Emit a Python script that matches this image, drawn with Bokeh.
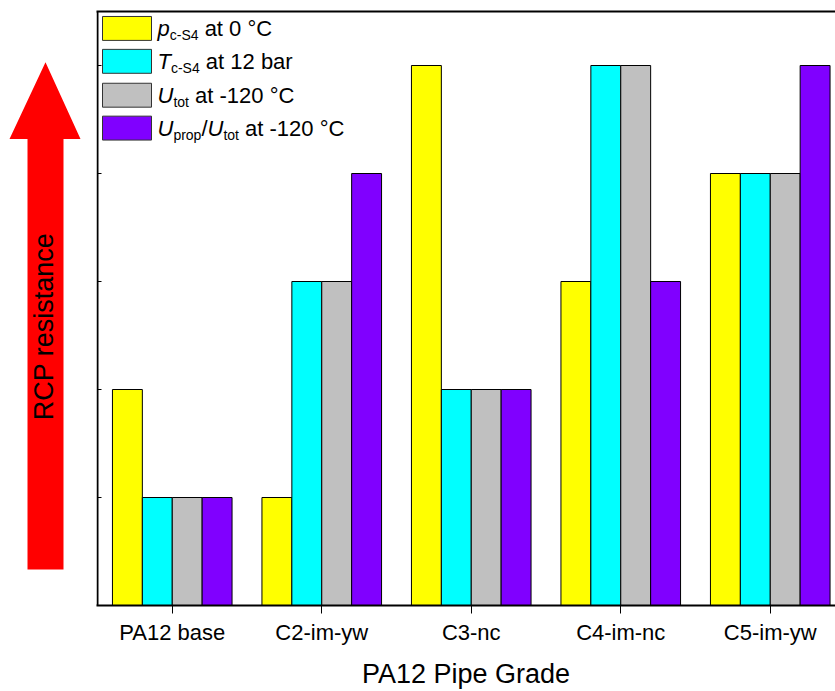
import math
from bokeh.plotting import figure
from bokeh.layouts import row
from bokeh.models import Range1d, FixedTicker, LinearAxis, Label, ColumnDataSource
from bokeh.core.properties import value
from bokeh.embed import file_html
from bokeh.resources import INLINE

# ---- data ----
grades = ["PA12 base", "C2-im-yw", "C3-nc", "C4-im-nc", "C5-im-yw"]
p_cS4_0C = [2, 1, 5, 3, 4]
T_cS4_12bar = [1, 3, 2, 5, 4]
U_tot_m120C = [1, 3, 2, 5, 4]
Uprop_Utot_m120C = [1, 4, 2, 3, 5]
series = [p_cS4_0C, T_cS4_12bar, U_tot_m120C, Uprop_Utot_m120C]
colors = ["#FFFF00", "#00FFFF", "#C0C0C0", "#8000FF"]
y_ticks = [1, 2, 3, 4, 5]
legend_segments = [
    [("p", "i"), ("c-S4", "s"), (" at 0 °C", "n")],
    [("T", "i"), ("c-S4", "s"), (" at 12 bar", "n")],
    [("U", "i"), ("tot", "s"), (" at -120 °C", "n")],
    [("U", "i"), ("prop", "s"), ("/", "n"), ("U", "i"), ("tot", "s"), (" at -120 °C", "n")],
]
y_label = "RCP resistance"
x_label = "PA12 Pipe Grade"

W, H = 835, 691
LW = 96                     # width of the left (arrow) panel
AX = 97                     # canvas x of the y axis line
FR, FT, FB = 835, 11, 607
PX = 149.5                  # pixels per category
X0 = 0.5 - (AX - LW) / PX
X1 = 0.5 + (FR - AX) / PX
Y0, Y1 = 0.0, 5.5
FONT = "Liberation Sans"


def X(sx):
    return X0 + (sx - LW) * (X1 - X0) / (FR - LW)


def Y(sy):
    return Y0 + (FB - sy) * (Y1 - Y0) / (FB - FT)


p = figure(width=W - LW, height=H, output_backend="svg", toolbar_location=None,
           x_range=Range1d(X0, X1), y_range=Range1d(Y0, Y1),
           min_border_left=0, min_border_right=0, min_border_top=FT,
           min_border_bottom=H - FB, outline_line_color=None,
           y_axis_location=None,
           background_fill_color="white", border_fill_color="white")
p.grid.visible = False

n = len(grades)
offsets = [-0.3, -0.1, 0.1, 0.3]
for vals, col, off in zip(series, colors, offsets):
    src = ColumnDataSource(dict(x=[g + 1 + off for g in range(n)], top=vals))
    p.vbar(x="x", top="top", width=0.2, bottom=0, source=src,
           fill_color=col, line_color="black", line_width=1)

# bottom axis
xa = p.xaxis[0]
xa.ticker = FixedTicker(ticks=list(range(1, n + 1)))
xa.major_label_overrides = {i + 1: g for i, g in enumerate(grades)}
xa.major_label_text_font = FONT
xa.major_label_text_font_size = "22px"
xa.major_label_text_color = "black"
xa.major_tick_out = 8
xa.major_tick_in = 0
xa.minor_tick_out = 0
xa.minor_tick_in = 0
xa.axis_line_width = 2
xa.axis_line_color = "black"
xa.major_tick_line_color = "black"
xa.major_label_standoff = 6
xa.axis_label = x_label
xa.axis_label_text_font = FONT
xa.axis_label_text_font_size = "27px"
xa.axis_label_text_font_style = "normal"
xa.axis_label_text_color = "black"
xa.axis_label_standoff = 11

# left axis line + inward ticks
p.segment(x0=[0.5], y0=[Y0], x1=[0.5], y1=[Y1], line_color="black", line_width=2)
p.segment(x0=[0.5] * len(y_ticks), y0=y_ticks, x1=[0.5 + 4 / PX] * len(y_ticks), y1=y_ticks,
          line_color="black", line_width=1)

# top frame line
top = LinearAxis(ticker=FixedTicker(ticks=[]), axis_line_width=2, axis_line_color="black",
                 major_tick_in=0, major_tick_out=0, minor_tick_in=0, minor_tick_out=0,
                 major_label_standoff=0)
p.add_layout(top, "above")

# legend (manual, with subscripts)
row_tops = [16, 49, 83, 116]
char_w = {" ": 278, "-": 333, "/": 278, "°": 400, "C": 722, "S": 667, "T": 611, "U": 722,
          "a": 556, "b": 556, "c": 500, "o": 556, "p": 556, "r": 333, "t": 278}


def text_w(s, size):
    return sum(char_w.get(ch, 556) for ch in s) * size / 1000.0


for col, segs, rt in zip(colors, legend_segments, row_tops):
    p.quad(left=[X(102)], right=[X(151)], top=[Y(rt)], bottom=[Y(rt + 24)],
           fill_color=col, line_color="#333333", line_width=1)
    base = rt + 12
    sx = 157
    for txt, st in segs:
        size = 14 if st == "s" else 22
        sy = base + 7 if st == "s" else base
        lead = len(txt) - len(txt.lstrip(" "))
        sx += text_w(" " * lead, size)
        body = txt.lstrip(" ")
        p.add_layout(Label(x=X(sx), y=Y(sy), text=body, text_font=FONT,
                           text_font_size=f"{size}px", text_color="black",
                           text_font_style="italic" if st == "i" else "normal",
                           text_baseline="alphabetic", text_align="left"))
        sx += text_w(body, size)

# left panel: red arrow with the y label (frame aligned with the main frame)
pa = figure(width=LW, height=H, output_backend="svg", toolbar_location=None,
            x_range=Range1d(0, LW), y_range=Range1d(H - FB, H - FT),
            min_border_left=0, min_border_right=0, min_border_top=FT, min_border_bottom=H - FB,
            x_axis_location=None, y_axis_location=None, outline_line_color=None,
            background_fill_color="white", border_fill_color="white")
pa.grid.visible = False
axs = [27, 63, 63, 80, 45, 9, 27]
ays = [571, 571, 139, 139, 62, 139, 139]
pa.patch(x=axs, y=[H - v for v in ays], fill_color="#FF0000", line_color=None)
pa.text(x=[43], y=[H - 327], text=[y_label], angle=math.pi / 2,
        text_font=value(FONT), text_font_size="27px", text_color="black",
        text_align="center", text_baseline="alphabetic")

layout = row(pa, p, spacing=0)
open("out.html", "w").write(file_html(layout, INLINE))
